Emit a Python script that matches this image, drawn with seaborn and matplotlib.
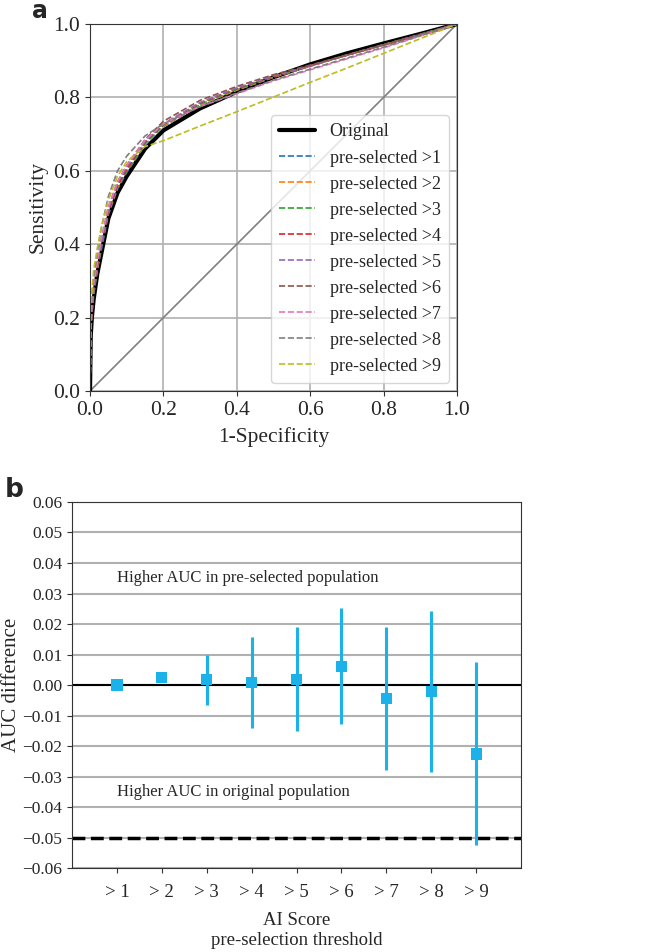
import numpy as np
import pandas as pd
import matplotlib
matplotlib.use("Agg")
import matplotlib.pyplot as plt
import seaborn as sns

# ROC curves, values
fpr = [0, 0.002, 0.005, 0.01, 0.02, 0.03, 0.05, 0.075, 0.1, 0.15, 0.2,
       0.3, 0.4, 0.5, 0.6, 0.7, 0.8, 0.9, 1.0]
tpr_original = [0, 0.15, 0.20, 0.25, 0.32, 0.37, 0.47, 0.54, 0.585, 0.66, 0.71,
                0.77, 0.815, 0.855, 0.89, 0.92, 0.947, 0.973, 1.0]
tpr_gt1 = [0, 0.16, 0.21, 0.26, 0.33, 0.38, 0.48, 0.55, 0.595, 0.67, 0.72,
           0.78, 0.82, 0.855, 0.885, 0.915, 0.943, 0.971, 1.0]
tpr_gt2 = [0, 0.16, 0.21, 0.27, 0.33, 0.39, 0.485, 0.555, 0.60, 0.672, 0.722,
           0.78, 0.82, 0.855, 0.885, 0.915, 0.943, 0.971, 1.0]
tpr_gt3 = [0, 0.17, 0.22, 0.27, 0.34, 0.39, 0.49, 0.56, 0.60, 0.675, 0.725,
           0.782, 0.822, 0.856, 0.886, 0.916, 0.944, 0.972, 1.0]
tpr_gt4 = [0, 0.17, 0.22, 0.28, 0.34, 0.40, 0.49, 0.56, 0.605, 0.678, 0.727,
           0.785, 0.825, 0.857, 0.886, 0.915, 0.943, 0.971, 1.0]
tpr_gt5 = [0, 0.17, 0.22, 0.28, 0.35, 0.40, 0.495, 0.565, 0.61, 0.68, 0.728,
           0.786, 0.826, 0.858, 0.886, 0.915, 0.943, 0.971, 1.0]
tpr_gt6 = [0, 0.18, 0.23, 0.29, 0.35, 0.41, 0.50, 0.57, 0.615, 0.685, 0.735,
           0.792, 0.83, 0.862, 0.888, 0.915, 0.943, 0.971, 1.0]
tpr_gt7 = [0, 0.18, 0.23, 0.29, 0.35, 0.41, 0.50, 0.57, 0.615, 0.683, 0.728,
           0.775, 0.81, 0.845, 0.875, 0.905, 0.935, 0.967, 1.0]
tpr_gt8 = [0, 0.19, 0.25, 0.31, 0.38, 0.44, 0.53, 0.60, 0.64, 0.695, 0.728,
           0.775, 0.812, 0.847, 0.877, 0.907, 0.937, 0.968, 1.0]
tpr_gt9 = [0, 0.22, 0.27, 0.33, 0.39, 0.44, 0.52, 0.585, 0.625, 0.666, 0.682,
           0.722, 0.761, 0.801, 0.841, 0.880, 0.920, 0.960, 1.0]
preselected = [tpr_gt1, tpr_gt2, tpr_gt3, tpr_gt4, tpr_gt5,
               tpr_gt6, tpr_gt7, tpr_gt8, tpr_gt9]

# AUC differences
thresholds = ["> 1", "> 2", "> 3", "> 4", "> 5", "> 6", "> 7", "> 8", "> 9"]
auc_diff = [0.0, 0.0024, 0.0019, 0.0009, 0.0019, 0.0061, -0.0044, -0.0022, -0.0226]
ci_low = [0.0, 0.0024, -0.0066, -0.0142, -0.0152, -0.0129, -0.0277, -0.0286, -0.0526]
ci_high = [0.0, 0.0024, 0.0098, 0.0159, 0.0190, 0.0254, 0.0190, 0.0242, 0.0076]

sns.set_style("ticks")
plt.rcParams['font.family'] = ['Liberation Serif', 'DejaVu Serif']
plt.rcParams['axes.edgecolor'] = '#333333'

fig = plt.figure(figsize=(6.57, 9.52), dpi=100)

# ---- panel a ----
ax1 = fig.add_axes([0.137, 0.5893, 0.5586, 0.3855])
ax1.grid(True, color='#b0b0b0', lw=1.2)
ax1.set_axisbelow(True)
ax1.plot([0, 1], [0, 1], color='gray', lw=1.2)
sns.lineplot(x=fpr, y=tpr_original, ax=ax1, color='black', lw=3, label='Original')
pal = sns.color_palette('tab10', 9)
for i, tpr in enumerate(preselected):
    sns.lineplot(x=fpr, y=tpr, ax=ax1, color=pal[i], lw=1.2, linestyle='--',
                 label='pre-selected >%d' % (i + 1))
ax1.set_xlim(0, 1)
ax1.set_ylim(0, 1)
ax1.set_xticks(np.arange(0, 1.01, 0.2))
ax1.set_yticks(np.arange(0, 1.01, 0.2))
ax1.tick_params(labelsize=15.5, color='#333333')
ax1.set_xlabel('1-Specificity', fontsize=15.5, labelpad=5)
ax1.set_ylabel('Sensitivity', fontsize=15.5)
ax1.legend(loc='lower right', fontsize=13, handlelength=2.0, labelspacing=0.5,
           borderpad=0.45, borderaxespad=0.45)
fig.text(32 / 657, 1 - 18 / 952, 'a', fontsize=17, fontweight='bold',
         family='DejaVu Sans', ha='left', va='baseline')

# ---- panel b ----
ax2 = fig.add_axes([0.1096, 0.0882, 0.6834, 0.3845])
ax2.yaxis.grid(True, color='#b0b0b0', lw=1.5)
ax2.set_axisbelow(True)
pos = np.arange(1, len(thresholds) + 1)
ax2.axhline(0, color='black', lw=1.5, zorder=1)
ax2.axhline(-0.05, color='black', lw=2.5, ls='--', zorder=1)
ax2.vlines(pos, ci_low, ci_high, color='#1ab2e8', lw=2.2, zorder=2)
df = pd.DataFrame({'pos': pos, 'diff': auc_diff})
sns.scatterplot(data=df, x='pos', y='diff', ax=ax2, marker='s', s=65,
                color='#1ab2e8', edgecolor='none', zorder=3)
ax2.set_xlim(0, 10)
ax2.set_ylim(-0.06, 0.06)
ax2.set_xticks(pos)
ax2.set_xticklabels(thresholds)
yt = np.arange(-0.06, 0.061, 0.01)
ax2.set_yticks(yt)
ax2.set_yticklabels([('%.2f' % (0 if abs(v) < 1e-9 else v)).replace('-', '\u2212')
                     for v in yt])
ax2.tick_params(labelsize=12.5, color='#333333')
ax2.tick_params(axis='x', labelsize=13.5, pad=8)
ax2.set_xlabel('AI Score\npre-selection threshold', fontsize=13.5, labelpad=8)
ax2.set_ylabel('AUC difference', fontsize=15)
ax2.yaxis.set_label_coords(-0.114, 0.5)
ax2.text(1, 0.035, 'Higher AUC in pre-selected population', fontsize=12,
         ha='left', va='center')
ax2.text(1, -0.035, 'Higher AUC in original population', fontsize=12,
         ha='left', va='center')
fig.text(5 / 657, 1 - 497 / 952, 'b', fontsize=19, fontweight='bold',
         family='DejaVu Sans', ha='left', va='baseline')

fig.savefig('out.png', dpi=100)
